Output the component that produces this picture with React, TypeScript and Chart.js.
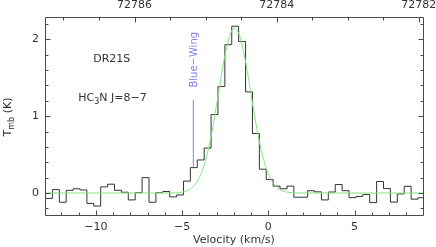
import React, { useEffect, useRef } from 'react';
import { Chart, registerables } from 'chart.js';

Chart.register(...registerables);

// ---- data -------------------------------------------------------------
// spectrum channels: left edge of first channel and channel width (km/s)
const CHANNEL_START = -12.92;
const CHANNEL_WIDTH = 0.4;
// main-beam temperature of each channel (K)
const T_MB = [
  -0.07, 0.045, -0.12, 0.035, 0.055, 0.04, -0.135, -0.17, 0.08, 0.115,
  0.035, 0.01, -0.09, 0.005, 0.2, -0.12, 0.005, 0.02, -0.05, -0.025,
  0.155, 0.33, 0.43, 0.585, 1.02, 1.385, 1.93, 2.17, 1.97, 1.315,
  0.775, 0.31, 0.175, 0.09, 0.055, 0.09, -0.055, -0.055, 0.03, 0.015,
  -0.09, 0.013, 0.11, 0.03, -0.06, -0.045, -0.02, -0.125, 0.15, 0.058,
  -0.118, -0.012, 0.088, -0.08, -0.062,
];
// gaussian fit (green)
const FIT_V = [
  -12.95, -6.0, -5.4, -5.0, -4.8, -4.6, -4.4, -4.2, -4.0, -3.8, -3.6, -3.4,
  -3.2, -3.0, -2.8, -2.6, -2.4, -2.2, -2.0, -1.8, -1.6, -1.4, -1.2, -1.0,
  -0.8, -0.6, -0.4, -0.2, 0.0, 0.2, 0.4, 0.6, 0.8, 1.0, 1.4, 2.0, 8.97,
];
const FIT_T = [
  0, 0, 0.002, 0.011, 0.021, 0.04, 0.072, 0.122, 0.2, 0.31, 0.46, 0.65,
  0.88, 1.15, 1.42, 1.69, 1.91, 2.07, 2.14, 2.11, 2.0, 1.8, 1.56, 1.28,
  1.01, 0.76, 0.55, 0.38, 0.25, 0.157, 0.094, 0.054, 0.03, 0.016, 0.004, 0, 0,
];
// blue-wing marker
const WING_V = [-4.35, -4.35];
const WING_T = [0.34, 1.21];

// axes
const X_MIN = -12.95;
const X_MAX = 8.97;
const Y_MIN = -0.286;
const Y_MAX = 2.29;
const F_MIN = 72781.94;
const F_MAX = 72787.26;
const X_TICKS = [-10, -5, 0, 5];
const Y_TICKS = [0, 1, 2];
const FREQ_TICKS = [72782, 72784, 72786];

// labels
const X_TITLE = 'Velocity (km/s)';
const SOURCE = 'DR21S';
const LINE_RUNS: [string, boolean][] = [['HC', false], ['3', true], ['N J=8\u22127', false]];
const Y_RUNS: [string, boolean][] = [['T', false], ['mb', true], [' (K)', false]];
const WING_LABEL = 'Blue\u2212Wing';
// annotation anchors in data coordinates
const SOURCE_POS = [-9.08, 1.705];
const LINE_POS = [-11.02, 1.2];
const WING_LABEL_POS = [-4.12, 1.734];

// ---- style ------------------------------------------------------------
const FONT = 'DejaVu Sans';
const TEXT_COLOR = '#333333';
const FRAME_COLOR = '#4a4a4a';
const HIST_COLOR = '#333333';
const FIT_COLOR = '#7ee67e';
const WING_COLOR = '#8080ee';
const MAJOR = 5;
const MINOR = 3;

const fmt = (v: number) => (v < 0 ? '\u2212' + Math.abs(v) : String(v));

function drawRuns(ctx: CanvasRenderingContext2D, runs: [string, boolean][], x: number, y: number, size: number, subSize: number, subDrop: number, measureOnly = false) {
  let cx = x;
  for (const [t, sub] of runs) {
    ctx.font = `${sub ? subSize : size}px "${FONT}"`;
    if (!measureOnly) ctx.fillText(t, cx, y + (sub ? subDrop : 0));
    cx += ctx.measureText(t).width;
  }
  return cx - x;
}

const decorPlugin = {
  id: 'decor',
  afterDatasetsDraw(chart: any) {
    const { ctx, chartArea: a, scales } = chart;
    const xs = scales.x, fs = scales.x2, ys = scales.y;
    ctx.save();
    ctx.lineWidth = 1;
    ctx.strokeStyle = FRAME_COLOR;
    ctx.beginPath();
    ctx.rect(a.left + 0.5, a.top + 0.5, a.right - a.left, a.bottom - a.top);
    for (let v = Math.ceil(xs.min); v <= xs.max; v += 1) {
      const px = Math.round(xs.getPixelForValue(v)) + 0.5;
      const len = v % 5 === 0 ? MAJOR : MINOR;
      ctx.moveTo(px, a.bottom + 0.5);
      ctx.lineTo(px, a.bottom + 0.5 - len);
    }
    for (let i = Math.ceil(fs.min * 2); i <= fs.max * 2; i++) {
      const px = Math.round(fs.getPixelForValue(i / 2)) + 0.5;
      const len = i % 4 === 0 ? MAJOR : MINOR;
      ctx.moveTo(px, a.top + 0.5);
      ctx.lineTo(px, a.top + 0.5 + len);
    }
    for (let i = Math.ceil(ys.min * 5); i <= ys.max * 5; i++) {
      const py = Math.round(ys.getPixelForValue(i / 5)) + 0.5;
      const len = i % 5 === 0 ? MAJOR : MINOR;
      ctx.moveTo(a.left + 0.5, py);
      ctx.lineTo(a.left + 0.5 + len, py);
      ctx.moveTo(a.right + 0.5, py);
      ctx.lineTo(a.right + 0.5 - len, py);
    }
    ctx.stroke();

    ctx.fillStyle = TEXT_COLOR;
    ctx.textBaseline = 'alphabetic';
    ctx.font = `11px "${FONT}"`;
    ctx.textAlign = 'center';
    ctx.fillText(SOURCE, xs.getPixelForValue(SOURCE_POS[0]), ys.getPixelForValue(SOURCE_POS[1]));
    ctx.textAlign = 'left';
    drawRuns(ctx, LINE_RUNS, xs.getPixelForValue(LINE_POS[0]), ys.getPixelForValue(LINE_POS[1]), 11, 8, 3);

    // y axis title (rotated)
    ctx.save();
    ctx.translate(10.5, (a.top + a.bottom) / 2 + 1);
    ctx.rotate(-Math.PI / 2);
    const w = drawRuns(ctx, Y_RUNS, 0, 0, 11, 8, 3, true);
    drawRuns(ctx, Y_RUNS, -w / 2, 0, 11, 8, 3);
    ctx.restore();

    // blue wing label
    ctx.save();
    ctx.fillStyle = WING_COLOR;
    ctx.font = `10px "${FONT}"`;
    ctx.translate(xs.getPixelForValue(WING_LABEL_POS[0]), ys.getPixelForValue(WING_LABEL_POS[1]));
    ctx.rotate(-Math.PI / 2);
    ctx.textAlign = 'center';
    ctx.fillText(WING_LABEL, 0, 0);
    ctx.restore();

    ctx.restore();
  },
};

const tickFont = { family: FONT, size: 11 };

export default function App() {
  const ref = useRef<HTMLCanvasElement>(null);
  useEffect(() => {
    const canvas = ref.current;
    if (!canvas) return;
    const hist = T_MB.map((t, i) => ({ x: CHANNEL_START + i * CHANNEL_WIDTH, y: t }));
    hist.push({ x: CHANNEL_START + T_MB.length * CHANNEL_WIDTH, y: T_MB[T_MB.length - 1] });
    const fit = FIT_V.map((v, i) => ({ x: v, y: FIT_T[i] }));
    const wing = WING_V.map((v, i) => ({ x: v, y: WING_T[i] }));
    const chart = new Chart(canvas, {
      type: 'line',
      data: {
        datasets: [
          { data: fit, borderColor: FIT_COLOR, borderWidth: 1, pointRadius: 0, cubicInterpolationMode: 'monotone', xAxisID: 'x', yAxisID: 'y' },
          { data: hist, borderColor: HIST_COLOR, borderWidth: 1, pointRadius: 0, stepped: 'before', xAxisID: 'x', yAxisID: 'y' },
          { data: wing, borderColor: WING_COLOR, borderWidth: 1, pointRadius: 0, xAxisID: 'x', yAxisID: 'y' },
        ],
      } as any,
      options: {
        animation: false,
        responsive: false,
        maintainAspectRatio: false,
        devicePixelRatio: 1,
        events: [],
        layout: { padding: { left: 0, right: 13, top: 0, bottom: 0 } },
        plugins: { legend: { display: false }, tooltip: { enabled: false } },
        scales: {
          x: {
            type: 'linear', position: 'bottom', min: X_MIN, max: X_MAX, bounds: 'data',
            afterBuildTicks: (s: any) => { s.ticks = X_TICKS.map((v) => ({ value: v })); },
            afterFit: (s: any) => { s.height = 32; },
            ticks: { callback: (v: any) => fmt(Number(v)), font: tickFont, color: TEXT_COLOR, padding: 6, autoSkip: false, maxRotation: 0 },
            grid: { display: false, drawTicks: false },
            border: { display: false },
            title: { display: true, text: X_TITLE, font: tickFont, color: TEXT_COLOR, padding: { top: 0, bottom: 0 } },
          },
          x2: {
            type: 'linear', position: 'top', reverse: true, min: F_MIN, max: F_MAX, bounds: 'data', display: true,
            afterBuildTicks: (s: any) => { s.ticks = FREQ_TICKS.map((v) => ({ value: v })); },
            afterFit: (s: any) => { s.height = 17; },
            ticks: { callback: (v: any) => String(v), font: tickFont, color: TEXT_COLOR, padding: 5, autoSkip: false, maxRotation: 0 },
            grid: { display: false, drawTicks: false },
            border: { display: false },
          },
          y: {
            type: 'linear', position: 'left', min: Y_MIN, max: Y_MAX, bounds: 'data',
            afterBuildTicks: (s: any) => { s.ticks = Y_TICKS.map((v) => ({ value: v })); },
            afterFit: (s: any) => { s.width = 45; },
            ticks: { callback: (v: any) => fmt(Number(v)), font: tickFont, color: TEXT_COLOR, padding: 6, autoSkip: false },
            grid: { display: false, drawTicks: false },
            border: { display: false },
          },
        },
      } as any,
      plugins: [decorPlugin],
    });
    return () => chart.destroy();
  }, []);
  return (
    <div style={{ position: 'fixed', left: 0, top: 0, width: 436, height: 247, background: '#fff' }}>
      <canvas ref={ref} width={436} height={247} style={{ display: 'block', width: 436, height: 247 }} />
    </div>
  );
}
